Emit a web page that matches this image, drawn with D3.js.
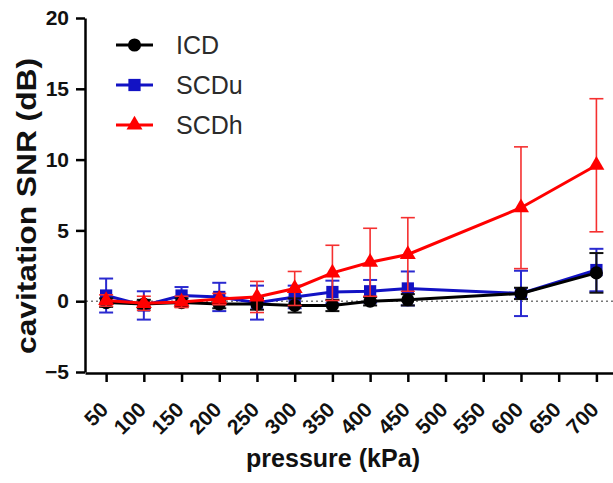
<!DOCTYPE html>
<html>
<head>
<meta charset="utf-8">
<script src="https://cdn.jsdelivr.net/npm/d3@7"></script>
<style>
  body { margin: 0; background: #fff; }
  svg { display: block; font-family: "Liberation Sans", Arial, sans-serif; }
</style>
</head>
<body>
<svg id="chart" width="613" height="483"></svg>
<script>
// pressures with data (kPa)
const pressures = [50, 100, 150, 200, 250, 300, 350, 400, 450, 600, 700];
const xTicks = [50, 100, 150, 200, 250, 300, 350, 400, 450, 500, 550, 600, 650, 700];
const yTicks = [-5, 0, 5, 10, 15, 20];

// means and error (dB)
const icdMean = [-0.1, -0.2, -0.1, -0.2, -0.2, -0.3, -0.3, 0.0, 0.1, 0.55, 2.0];
const icdErr  = [0.3, 0.3, 0.3, 0.3, 0.4, 0.5, 0.4, 0.3, 0.4, 0.4, 1.4];
const scduMean = [0.4, -0.3, 0.4, 0.3, -0.1, 0.3, 0.65, 0.7, 0.9, 0.55, 2.2];
const scduErr  = [1.2, 1.0, 0.6, 1.0, 1.2, 0.8, 0.8, 0.8, 1.2, 1.6, 1.5];
const scdhMean = [0.05, -0.15, -0.05, 0.15, 0.3, 0.9, 2.0, 2.75, 3.3, 6.6, 9.6];
const scdhErr  = [0.4, 0.5, 0.4, 0.4, 1.1, 1.2, 1.95, 2.4, 2.6, 4.3, 4.7];

const series = [
  { name: "SCDu", mean: scduMean, err: scduErr, color: "#1212c4", errColor: "#2a2ad0", symbol: d3.symbolSquare, size: 150, errWidth: 2 },
  { name: "ICD",  mean: icdMean,  err: icdErr,  color: "#000000", errColor: "#111111", symbol: d3.symbolCircle, size: 135, errWidth: 2 },
  { name: "SCDh", mean: scdhMean, err: scdhErr, color: "#ff0000", errColor: "#f53030", symbol: d3.symbolTriangle, size: 110, errWidth: 1.6 }
];
const legendOrder = ["ICD", "SCDu", "SCDh"];

const svg = d3.select("#chart");

const x = d3.scaleLinear().domain([22, 722]).range([85, 613]);
const y = d3.scaleLinear().domain([-5, 20]).range([372, 18]);

// zero reference line
svg.append("line")
  .attr("x1", 86).attr("x2", 613)
  .attr("y1", y(0)).attr("y2", y(0))
  .attr("stroke", "#777").attr("stroke-width", 1.4)
  .attr("stroke-dasharray", "2,3");

// y axis
const yAxis = svg.append("g")
  .attr("transform", "translate(85,0)")
  .call(d3.axisLeft(y).tickValues(yTicks).tickSize(9).tickSizeOuter(0).tickPadding(7));
yAxis.select(".domain").attr("stroke-width", 2.5);
yAxis.selectAll(".tick line").attr("stroke-width", 2.5);
yAxis.selectAll(".tick text")
  .attr("font-size", 21).attr("font-weight", "bold")
  .attr("font-family", "Liberation Sans, Arial, sans-serif")
  .attr("fill", "#111");

// x axis
const xAxis = svg.append("g")
  .attr("transform", "translate(0,373)")
  .call(d3.axisBottom(x).tickValues(xTicks).tickSize(9).tickSizeOuter(0).tickFormat(d => d));
xAxis.select(".domain").attr("stroke-width", 2.5);
xAxis.selectAll(".tick line").attr("stroke-width", 2.5);
xAxis.selectAll(".tick text")
  .attr("font-size", 21).attr("font-weight", "bold")
  .attr("font-family", "Liberation Sans, Arial, sans-serif")
  .attr("fill", "#111")
  .attr("text-anchor", "end")
  .attr("dy", null)
  .attr("y", null)
  .attr("transform", "translate(3,38) rotate(-45)");

// axis titles
svg.append("text")
  .attr("x", 333).attr("y", 467)
  .attr("text-anchor", "middle")
  .attr("font-size", 26).attr("font-weight", "bold")
  .attr("fill", "#111")
  .attr("textLength", 174).attr("lengthAdjust", "spacingAndGlyphs")
  .text("pressure (kPa)");

svg.append("text")
  .attr("transform", "translate(36,206) rotate(-90)")
  .attr("text-anchor", "middle")
  .attr("font-size", 27).attr("font-weight", "bold")
  .attr("fill", "#111")
  .attr("textLength", 296).attr("lengthAdjust", "spacingAndGlyphs")
  .text("cavitation SNR (dB)");

// data
const line = d3.line().x(d => x(d.p)).y(d => y(d.v));
const capW = 7;

series.forEach(s => {
  const pts = pressures.map((p, i) => ({ p: p, v: s.mean[i], e: s.err[i] }));
  const g = svg.append("g").attr("class", "series-" + s.name);

  const eb = g.append("g")
    .attr("stroke", s.errColor).attr("stroke-width", s.errWidth).attr("fill", "none");
  pts.forEach(d => {
    const cx = x(d.p), top = y(d.v + d.e), bot = y(d.v - d.e);
    eb.append("line").attr("x1", cx).attr("x2", cx).attr("y1", top).attr("y2", bot);
    eb.append("line").attr("x1", cx - capW).attr("x2", cx + capW).attr("y1", top).attr("y2", top);
    eb.append("line").attr("x1", cx - capW).attr("x2", cx + capW).attr("y1", bot).attr("y2", bot);
  });

  g.append("path")
    .datum(pts)
    .attr("d", line)
    .attr("fill", "none")
    .attr("stroke", s.color)
    .attr("stroke-width", 3);

  g.selectAll(".mark")
    .data(pts)
    .enter()
    .append("path")
    .attr("class", "mark")
    .attr("transform", d => `translate(${x(d.p)},${y(d.v)})`)
    .attr("d", d3.symbol().type(s.symbol).size(s.size))
    .attr("fill", s.color);
});

// legend
const legend = svg.append("g");
legendOrder.forEach((name, i) => {
  const s = series.find(d => d.name === name);
  const ly = 45 + i * 40;
  legend.append("line")
    .attr("x1", 116).attr("x2", 153)
    .attr("y1", ly).attr("y2", ly)
    .attr("stroke", s.color).attr("stroke-width", 3);
  legend.append("path")
    .attr("transform", `translate(134.5,${ly})`)
    .attr("d", d3.symbol().type(s.symbol).size(s.size))
    .attr("fill", s.color);
  legend.append("text")
    .attr("x", 176).attr("y", ly + 9)
    .attr("font-size", 25)
    .attr("fill", "#2b2b2b")
    .text(name);
});
</script>
</body>
</html>
